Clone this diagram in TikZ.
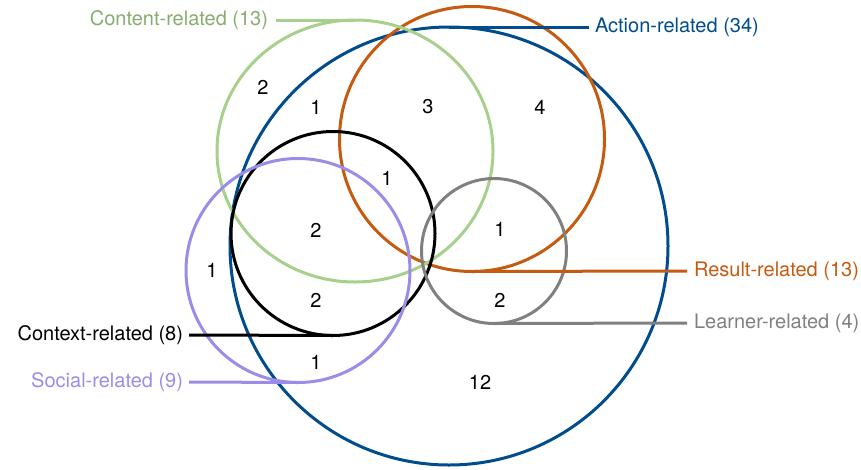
\documentclass[tikz,border=0pt]{standalone}
\usepackage{fontspec}
\setmainfont{TeX Gyre Heros}
\usetikzlibrary{shapes.geometric}

\definecolor{actionblue}{RGB}{0,76,140}
\definecolor{resultorange}{RGB}{197,90,17}
\definecolor{contentgreen}{RGB}{168,208,141}
\definecolor{contenttext}{RGB}{136,172,112}
\definecolor{socialpurple}{RGB}{155,140,232}
\definecolor{learnergrey}{RGB}{128,128,128}

\begin{document}
\begin{tikzpicture}[x=1pt,y=-1pt,font=\fontsize{20}{24}\selectfont]
\useasboundingbox (0,0) rectangle (861,469);

        % the six sets
        \begin{scope}[every node/.style={circle,draw,line width=3pt,inner sep=0pt,outer sep=0pt}]
          \node[draw=actionblue,minimum size=438pt]   (action)  at (449,246)   {};
          \node[draw=resultorange,minimum size=265pt] (result)  at (472,139)   {};
          \node[ellipse,draw=contentgreen,minimum width=276pt,minimum height=262pt]
                                                      (content) at (355,151)   {};
          \node[draw=black,minimum size=204pt]        (context) at (333,233.5) {};
          \node[draw=socialpurple,minimum size=224pt] (social)  at (298,270.5) {};
          \node[draw=learnergrey,minimum size=145pt]  (learner) at (494,251)   {};
        \end{scope}

        % set names
        \begin{scope}[every node/.style={inner ysep=4pt,inner xsep=6pt,outer sep=0pt}]
          \node[anchor=east,text=contenttext,inner xsep=8pt] (contentlbl) at (276,20) {Content-related (13)};
          \node[anchor=west,text=actionblue]   (actionlbl)  at (589,27)  {Action-related (34)};
          \node[anchor=west,text=resultorange,inner xsep=7pt] (resultlbl) at (687,271) {Result-related (13)};
          \node[anchor=west,text=learnergrey,inner xsep=7pt]  (learnerlbl) at (687,323) {Learner-related (4)};
          \node[anchor=east,text=black]        (contextlbl) at (189,335) {Context-related (8)};
          \node[anchor=east,text=socialpurple] (sociallbl)  at (189,382) {Social-related (9)};
        \end{scope}

        \begin{scope}[line width=3pt]
          \draw[contentgreen] (contentlbl.east) -- (content.north);
          \draw[actionblue]   (action.north)    -- (actionlbl.west);
          \draw[resultorange] (result.south)    -- (resultlbl.west);
          \draw[learnergrey]  (learner.south)   -- (learnerlbl.west);
          \draw[black]        (contextlbl.east) -- (context.south);
          \draw[socialpurple] (sociallbl.east)  -- (social.south);
        \end{scope}

        % counts per region
        \node (n1)  at (263,87)  {2};
        \node (n2)  at (316,107) {1};
        \node (n3)  at (428,107) {3};
        \node (n4)  at (540,107) {4};
        \node (n5)  at (387,178) {1};
        \node (n6)  at (316,230) {2};
        \node (n7)  at (500,229) {1};
        \node (n8)  at (212,270) {1};
        \node (n9)  at (316,300) {2};
        \node (n10) at (500,300) {2};
        \node (n11) at (316,362) {1};
        \node (n12) at (480,382) {12};

      \end{tikzpicture}
\end{document}
